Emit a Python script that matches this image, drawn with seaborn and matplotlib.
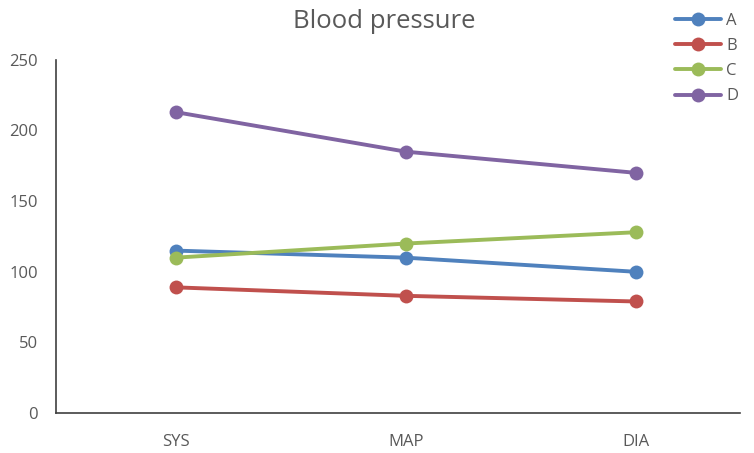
import matplotlib
matplotlib.use("Agg")
import matplotlib.pyplot as plt
import seaborn as sns
import pandas as pd

# values
categories = ["SYS", "MAP", "DIA"]
series_names = ["A", "B", "C", "D"]
a_vals = [115, 110, 100]
b_vals = [89, 83, 79]
c_vals = [110, 120, 128]
d_vals = [213, 185, 170]
colors = ["#4F81BD", "#C0504D", "#9BBB59", "#8064A2"]

rows = []
for name, vals in zip(series_names, [a_vals, b_vals, c_vals, d_vals]):
    for i, (cat, v) in enumerate(zip(categories, vals)):
        rows.append({"series": name, "pos": i, "cat": cat, "value": v})
df = pd.DataFrame(rows)

sns.set_style("white")
plt.rcParams['font.family'] = ['Open Sans', 'DejaVu Sans']

fig = plt.figure(figsize=(7.54, 4.53), dpi=100)
ax = fig.add_axes([0.074, 0.088, 0.907, 0.78])

sns.lineplot(data=df, x="pos", y="value", hue="series", palette=colors,
             marker="o", markersize=10, markeredgewidth=0, linewidth=2.8,
             ax=ax, legend=True)

ax.set_xlim(-0.52, 2.45)
ax.set_ylim(0, 250)
ax.set_yticks([0, 50, 100, 150, 200, 250])
ax.set_xticks(range(len(categories)))
ax.set_xticklabels(categories)
ax.set_xlabel("")
ax.set_ylabel("")
ax.tick_params(axis="both", length=0, labelsize=12, colors="#595959")
ax.tick_params(axis="x", pad=15)
ax.tick_params(axis="y", pad=13)

for s in ["top", "right"]:
    ax.spines[s].set_visible(False)
for s in ["left", "bottom"]:
    ax.spines[s].set_color("#404040")
    ax.spines[s].set_linewidth(1.2)

fig.suptitle("Blood pressure", x=0.51, y=0.98, fontsize=18.5, color="#595959")

leg = ax.legend(title=None, loc="upper right", bbox_to_anchor=(1.02, 1.175),
                frameon=False, fontsize=12, handlelength=2.8, labelspacing=0.55,
                handletextpad=0.3)
for t in leg.get_texts():
    t.set_color("#595959")

fig.savefig("out.png", dpi=100)
